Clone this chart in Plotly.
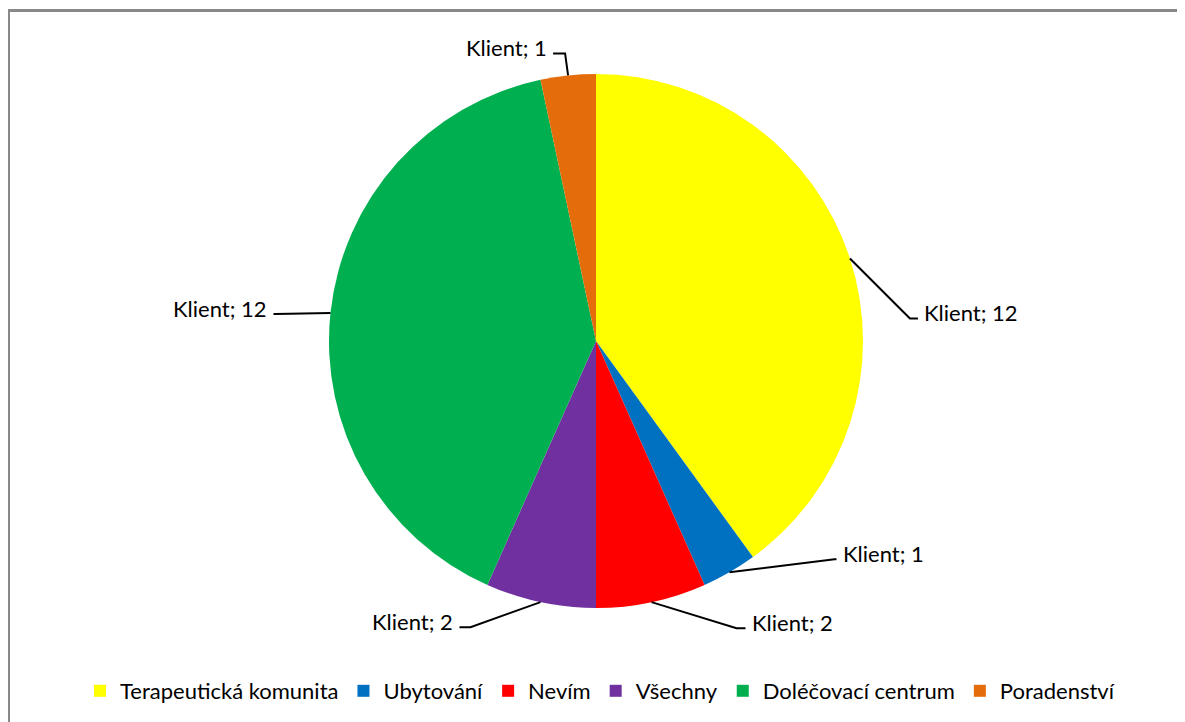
""" Pie chart: Klient preferences """

import math

from plotly import graph_objects as go

# data
labels = [
    "Terapeutická komunita",
    "Ubytování",
    "Nevím",
    "Všechny",
    "Doléčovací centrum",
    "Poradenství",
]
values = [12, 1, 2, 2, 12, 1]
series_name = "Klient"
colors = ["#FFFF00", "#0070C0", "#FF0000", "#7030A0", "#00B050", "#E46C0A"]

W, H = 1185, 722
OFF = 8  # page body margin
CX, CY, R = 596, 341, 267

# leader line geometry (pixel offsets from slice edge to elbow, stub length, side)
leader = [
    ((60, 60), 8, "right"),
    ((105, -13), 2, "right"),
    ((85, 26), 9, "right"),
    ((-70, 25), 11, "left"),
    ((-55, 1), 2, "left"),
    ((-3, -22), 12, "left"),
]


def px(x):
    return (x - OFF) / W


def py(y):
    return 1 - (y - OFF) / H


fig = go.Figure(
    go.Pie(
        labels=labels,
        values=values,
        name=series_name,
        sort=False,
        direction="clockwise",
        rotation=0,
        marker=dict(colors=colors, line=dict(width=0)),
        textinfo="none",
        hoverinfo="label+value",
        domain=dict(x=[px(CX - R), px(CX + R)], y=[py(CY + R), py(CY - R)]),
    )
)

shapes = []
annotations = []
total = sum(values)
cum = 0
for i, v in enumerate(values):
    mid = (cum + v / 2) / total * 2 * math.pi
    cum += v
    ex = CX + R * math.sin(mid)
    ey = CY - R * math.cos(mid)
    (dx, dy), stub, side = leader[i]
    bx, by = ex + dx, ey + dy
    sx = bx + stub if side == "right" else bx - stub
    path = f"M {px(ex)},{py(ey)} L {px(bx)},{py(by)} L {px(sx)},{py(by)}"
    shapes.append(
        dict(type="path", xref="paper", yref="paper", path=path,
             line=dict(color="black", width=2))
    )
    tx = sx + 4 if side == "right" else sx - 4
    annotations.append(
        dict(
            x=px(tx), y=py(by - 6), xref="paper", yref="paper",
            text=f"{series_name}; {v}", showarrow=False,
            xanchor="left" if side == "right" else "right", yanchor="middle",
            font=dict(size=22, color="#000000", family="Lato"),
        )
    )

# chart frame
shapes.append(
    dict(type="rect", xref="paper", yref="paper",
         x0=px(8.5), x1=px(1181.5), y0=-0.05, y1=py(10.5),
         line=dict(color="#888888", width=3), fillcolor="rgba(0,0,0,0)")
)

fig.update_layout(
    width=W,
    height=H,
    margin={"r": 0, "t": 0, "l": 0, "b": 0},
    paper_bgcolor="white",
    plot_bgcolor="white",
    shapes=shapes,
    annotations=annotations,
    showlegend=True,
    legend=dict(
        orientation="h",
        x=px(600), xanchor="center",
        y=py(691), yanchor="middle",
        font=dict(size=22, color="#000000", family="Lato"),
        itemwidth=30,
        tracegroupgap=0,
    ),
)

fig.write_html("out.html")
